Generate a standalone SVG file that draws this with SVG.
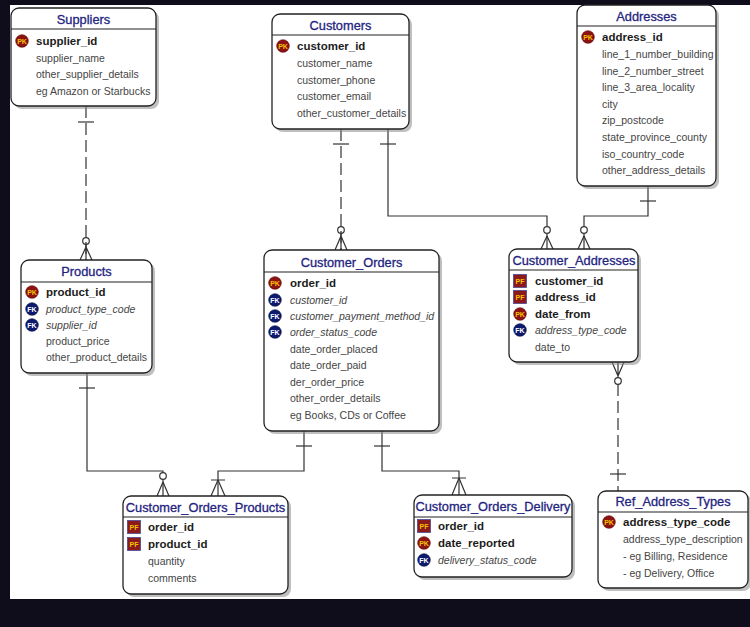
<svg xmlns="http://www.w3.org/2000/svg" width="750" height="627" viewBox="0 0 750 627">
<style>
.bg{fill:#0f0d1c}
.box{fill:#fff;stroke:#222;stroke-width:1.3}
.sh{fill:#8a8a8a;opacity:.55}
.sep{stroke:#222;stroke-width:1.2}
.t{font-family:"Liberation Sans",Arial,sans-serif;font-size:12.8px;fill:#24247f;stroke:#24247f;stroke-width:0.3;text-anchor:middle}
.f{font-family:"Liberation Sans",Arial,sans-serif;font-size:10.5px;fill:#454545}
.k{font-family:"Liberation Sans",Arial,sans-serif;font-size:11.5px;font-weight:bold;fill:#1c1c1c}
.i{font-style:italic}
.c{stroke:#333;stroke-width:1.2;fill:none}
.d{stroke-dasharray:12 5}
.ic{font-family:"Liberation Sans",Arial,sans-serif;font-size:7px;font-weight:bold;text-anchor:middle}
</style>
<defs>
<g id="pk"><circle r="6.3" fill="#8d1212" stroke="#5a0000" stroke-width="0.6"/><text class="ic" y="2.5" fill="#f2c200">PK</text></g>
<g id="fk"><circle r="6.3" fill="#0c1a70" stroke="#050b3a" stroke-width="0.6"/><text class="ic" y="2.5" fill="#ffffff">FK</text></g>
<g id="pf"><rect x="-6.5" y="-6.5" width="13" height="13" fill="#8d1a1a" stroke="#4a4a9a" stroke-width="0.8"/><text class="ic" y="2.5" fill="#f2c200">PF</text></g>
</defs>
<rect class="bg" x="0" y="0" width="750" height="627"/>
<rect x="10" y="5" width="740" height="594" fill="#fff"/>

<g id="connectors">
  <path class="c d" d="M86 106V260"/>
  <path class="c" d="M78 122H94"/>
  <circle class="c" cx="86" cy="241" r="3.3"/>
  <path class="c" d="M86 247L80 260M86 247L92 260M86 244.5V260"/>
  <path class="c d" d="M341 129V250"/>
  <path class="c" d="M333 144H349"/>
  <circle class="c" cx="341" cy="230" r="3.3"/>
  <path class="c" d="M341 236L335 250M341 236L347 250M341 233.5V250"/>
  <path class="c" d="M388 129V216H547V226.5M547 233.5V249"/>
  <path class="c" d="M380 144H396"/>
  <circle class="c" cx="547" cy="230" r="3.3"/>
  <path class="c" d="M547 236L541 249M547 236L553 249"/>
  <path class="c" d="M648 186V216H584V226.5M584 233.5V249"/>
  <path class="c" d="M640 201H656"/>
  <circle class="c" cx="584" cy="230" r="3.3"/>
  <path class="c" d="M584 236L578 249M584 236L590 249"/>
  <path class="c d" d="M618 384V491"/>
  <path class="c" d="M618 362V377.5M612 362L618 376M624 362L618 376"/>
  <circle class="c" cx="618" cy="381" r="3.3"/>
  <path class="c" d="M610 474H626"/>
  <path class="c" d="M87 373V471H163V472.5M163 479.5V496"/>
  <path class="c" d="M79 388H95"/>
  <circle class="c" cx="163" cy="476" r="3.3"/>
  <path class="c" d="M163 482L157 496M163 482L169 496"/>
  <path class="c" d="M304 431V471H218V496"/>
  <path class="c" d="M296 446H312"/>
  <path class="c" d="M211 480H225M218 480L211 496M218 480L225 496"/>
  <path class="c" d="M382 431V471H459V495"/>
  <path class="c" d="M374 446H390"/>
  <path class="c" d="M452 478H466M459 478L452 495M459 478L466 495"/>
</g>

<g id="Suppliers">
  <rect class="sh" x="14" y="11" width="145" height="98" rx="8"/>
  <rect class="box" x="11" y="8" width="145" height="98" rx="8"/>
  <path class="sep" d="M11 29H156"/>
  <text class="t" x="83.5" y="23.5">Suppliers</text>
  <use href="#pk" x="22" y="41"/>
  <text class="k" x="36" y="45">supplier_id</text>
  <text class="f" x="36" y="61.5">supplier_name</text>
  <text class="f" x="36" y="78">other_supplier_details</text>
  <text class="f" x="36" y="94.5">eg Amazon or Starbucks</text>
</g>

<g id="Customers">
  <rect class="sh" x="275" y="17" width="137" height="115" rx="8"/>
  <rect class="box" x="272" y="14" width="137" height="115" rx="8"/>
  <path class="sep" d="M272 35H409"/>
  <text class="t" x="340.5" y="29.5">Customers</text>
  <use href="#pk" x="283" y="46"/>
  <text class="k" x="297" y="50">customer_id</text>
  <text class="f" x="297" y="67">customer_name</text>
  <text class="f" x="297" y="83.5">customer_phone</text>
  <text class="f" x="297" y="100">customer_email</text>
  <text class="f" x="297" y="117">other_customer_details</text>
</g>

<g id="Addresses">
  <rect class="sh" x="580" y="8" width="139" height="181" rx="8"/>
  <rect class="box" x="577" y="5" width="139" height="181" rx="8"/>
  <path class="sep" d="M577 26H716"/>
  <text class="t" x="646.5" y="20.5">Addresses</text>
  <use href="#pk" x="588" y="37"/>
  <text class="k" x="602" y="41">address_id</text>
  <text class="f" x="602" y="58">line_1_number_building</text>
  <text class="f" x="602" y="75">line_2_number_street</text>
  <text class="f" x="602" y="91">line_3_area_locality</text>
  <text class="f" x="602" y="108">city</text>
  <text class="f" x="602" y="124">zip_postcode</text>
  <text class="f" x="602" y="141">state_province_county</text>
  <text class="f" x="602" y="158">iso_country_code</text>
  <text class="f" x="602" y="174">other_address_details</text>
</g>

<g id="Products">
  <rect class="sh" x="24" y="263" width="131" height="113" rx="8"/>
  <rect class="box" x="21" y="260" width="131" height="113" rx="8"/>
  <path class="sep" d="M21 282H152"/>
  <text class="t" x="86.5" y="275.5">Products</text>
  <use href="#pk" x="32" y="292"/>
  <text class="k" x="46" y="296">product_id</text>
  <use href="#fk" x="32" y="309"/>
  <text class="f i" x="46" y="313">product_type_code</text>
  <use href="#fk" x="32" y="325"/>
  <text class="f i" x="46" y="329">supplier_id</text>
  <text class="f" x="46" y="345">product_price</text>
  <text class="f" x="46" y="361">other_product_details</text>
</g>

<g id="Customer_Orders">
  <rect class="sh" x="267" y="253" width="175" height="181" rx="8"/>
  <rect class="box" x="264" y="250" width="175" height="181" rx="8"/>
  <path class="sep" d="M264 272H439"/>
  <text class="t" x="351.5" y="266.5">Customer_Orders</text>
  <use href="#pk" x="275" y="283"/>
  <text class="k" x="290" y="287">order_id</text>
  <use href="#fk" x="275" y="300"/>
  <text class="f i" x="290" y="304">customer_id</text>
  <use href="#fk" x="275" y="316"/>
  <text class="f i" x="290" y="320">customer_payment_method_id</text>
  <use href="#fk" x="275" y="332"/>
  <text class="f i" x="290" y="336">order_status_code</text>
  <text class="f" x="290" y="353">date_order_placed</text>
  <text class="f" x="290" y="369">date_order_paid</text>
  <text class="f" x="290" y="386">der_order_price</text>
  <text class="f" x="290" y="402">other_order_details</text>
  <text class="f" x="290" y="419">eg Books, CDs or Coffee</text>
</g>

<g id="Customer_Addresses">
  <rect class="sh" x="512" y="252" width="129" height="113" rx="8"/>
  <rect class="box" x="509" y="249" width="129" height="113" rx="8"/>
  <path class="sep" d="M509 270H638"/>
  <text class="t" x="574" y="264.5">Customer_Addresses</text>
  <use href="#pf" x="520" y="281"/>
  <text class="k" x="535" y="285">customer_id</text>
  <use href="#pf" x="520" y="297"/>
  <text class="k" x="535" y="301">address_id</text>
  <use href="#pk" x="520" y="314"/>
  <text class="k" x="535" y="318">date_from</text>
  <use href="#fk" x="520" y="330"/>
  <text class="f i" x="535" y="334">address_type_code</text>
  <text class="f" x="535" y="351">date_to</text>
</g>

<g id="Customer_Orders_Products">
  <rect class="sh" x="126" y="499" width="165" height="98" rx="8"/>
  <rect class="box" x="123" y="496" width="165" height="98" rx="8"/>
  <path class="sep" d="M123 517H288"/>
  <text class="t" x="205.5" y="511.5">Customer_Orders_Products</text>
  <use href="#pf" x="134" y="527"/>
  <text class="k" x="148" y="531">order_id</text>
  <use href="#pf" x="134" y="544"/>
  <text class="k" x="148" y="548">product_id</text>
  <text class="f" x="148" y="565">quantity</text>
  <text class="f" x="148" y="582">comments</text>
</g>

<g id="Customer_Orders_Delivery">
  <rect class="sh" x="417" y="498" width="158" height="82" rx="8"/>
  <rect class="box" x="414" y="495" width="158" height="82" rx="8"/>
  <path class="sep" d="M414 517H572"/>
  <text class="t" x="493" y="510.5">Customer_Orders_Delivery</text>
  <use href="#pf" x="424" y="526"/>
  <text class="k" x="438" y="530">order_id</text>
  <use href="#pk" x="424" y="543"/>
  <text class="k" x="438" y="547">date_reported</text>
  <use href="#fk" x="424" y="560"/>
  <text class="f i" x="438" y="564">delivery_status_code</text>
</g>

<g id="Ref_Address_Types">
  <rect class="sh" x="601" y="494" width="150" height="97" rx="8"/>
  <rect class="box" x="598" y="491" width="150" height="97" rx="8"/>
  <path class="sep" d="M598 512H748"/>
  <text class="t" x="673" y="505.5">Ref_Address_Types</text>
  <use href="#pk" x="609" y="522"/>
  <text class="k" x="623" y="526">address_type_code</text>
  <text class="f" x="623" y="543">address_type_description</text>
  <text class="f" x="623" y="560">- eg Billing, Residence</text>
  <text class="f" x="623" y="577">- eg Delivery, Office</text>
</g>
</svg>
